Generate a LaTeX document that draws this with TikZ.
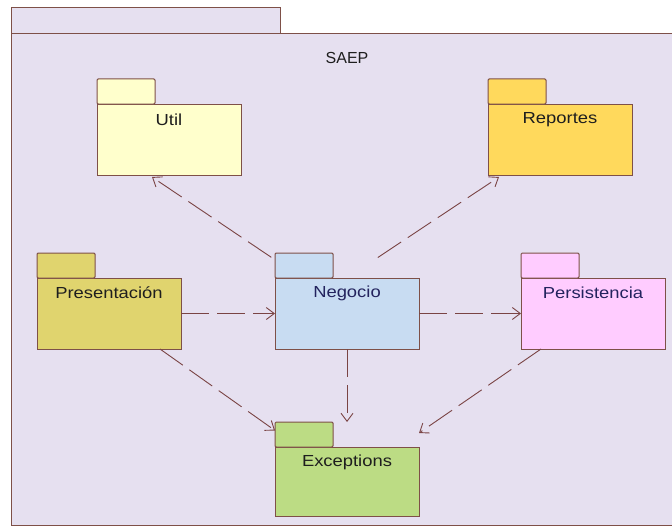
\documentclass[tikz,border=0pt]{standalone}
\usepackage{fontspec}
\setmainfont{Liberation Sans}
\usetikzlibrary{arrows.meta,calc}
\definecolor{bg}{HTML}{E6E0F0}
\definecolor{pline}{HTML}{7E5048}
\definecolor{dline}{HTML}{7A4444}
\definecolor{cutil}{HTML}{FFFFCC}
\definecolor{crep}{HTML}{FFD95C}
\definecolor{cpres}{HTML}{E0D46E}
\definecolor{cneg}{HTML}{C8DCF2}
\definecolor{cpers}{HTML}{FFCCFF}
\definecolor{cexc}{HTML}{BCDC84}
\definecolor{tdark}{HTML}{1E1E1E}
\definecolor{tnavy}{HTML}{23235E}
\tikzset{
  pkgbody/.style={draw=pline, line width=1pt, minimum width=144, minimum height=71, anchor=north west, inner sep=0pt, outer sep=0pt},
  pkgtab/.style={draw=pline, line width=1pt, minimum width=58, minimum height=25, anchor=south west, inner sep=0pt, outer sep=0pt, rounded corners=1.2pt},
  pkglabel/.style={font=\fontsize{16}{18}\selectfont, inner sep=0pt, text=tdark},
  dep/.style={draw=dline, line width=0.9pt, dash pattern=on 28pt off 8pt, -{Straight Barb[length=8pt,width=12pt,line width=0.9pt]}}
}
\newcommand{\pkgtext}[1]{\scalebox{1.15}[1]{#1}}
\begin{document}
\begin{tikzpicture}[x=1pt,y=-1pt]
\useasboundingbox (0,0) rectangle (672,527);
\fill[white] (0,0) rectangle (672,527);
% outer package
\node[draw=pline, fill=bg, line width=1pt, minimum width=269, minimum height=26, anchor=north west, inner sep=0pt, outer sep=0pt] (otab) at (11,8) {};
\node[draw=pline, fill=bg, line width=1pt, minimum width=670, minimum height=491, anchor=north west, inner sep=0pt, outer sep=0pt] (saep) at (11,34) {};
\node[font=\fontsize{16}{18}\selectfont, inner sep=0pt, text=tdark] (saepT) at (347,58) {SAEP};
% Util
\node[pkgbody, fill=cutil] (util) at (97,104) {};
\node[pkgtab, fill=cutil] (utab) at (util.north west) {};
\node[pkglabel] (utilT) at ($(util.north)+(0,16)$) {\pkgtext{Util}};
% Reportes
\node[pkgbody, fill=crep] (rep) at (488,104) {};
\node[pkgtab, fill=crep] (rtab) at (rep.north west) {};
\node[pkglabel] (repT) at ($(rep.north)+(0,16)$) {\pkgtext{Reportes}};
% Presentacion
\node[pkgbody, fill=cpres] (pres) at (37,278) {};
\node[pkgtab, fill=cpres] (ptab) at (pres.north west) {};
\node[pkglabel] (presT) at ($(pres.north)+(0,15)$) {\pkgtext{Presentación}};
% Negocio
\node[pkgbody, fill=cneg] (neg) at (275,278) {};
\node[pkgtab, fill=cneg] (ntab) at (neg.north west) {};
\node[pkglabel, text=tnavy] (negT) at ($(neg.north)+(0,15)$) {\pkgtext{Negocio}};
% Persistencia
\node[pkgbody, fill=cpers] (pers) at (521,278) {};
\node[pkgtab, fill=cpers] (pstab) at (pers.north west) {};
\node[pkglabel, text=tnavy] (persT) at ($(pers.north)+(0,15)$) {\pkgtext{Persistencia}};
% Exceptions
\node[pkgbody, fill=cexc, minimum height=69] (exc) at (275,447) {};
\node[pkgtab, fill=cexc] (etab) at (exc.north west) {};
\node[pkglabel] (excT) at ($(exc.north)+(0,15)$) {\pkgtext{Exceptions}};
% dependencies
\draw[dep, shorten <=37pt] ($(neg.north west)+(27,0)$) -- ($(util.south west)+(55,2)$);
\draw[dep, shorten <=37pt] (neg.north) -- ($(rep.south west)+(11,2)$);
\draw[dep] (pres.east) -- (neg.west);
\draw[dep] (neg.east) -- (pers.west);
\draw[dep] (neg.south) -- (neg.south |- etab.north);
\draw[dep] ($(pres.south west)+(123,0)$) -- ($(etab.west)+(0,-4)$);
\draw[dep] ($(pers.south west)+(20,0)$) -- ($(exc.north east)+(0,-14)$);
\end{tikzpicture}
\end{document}
